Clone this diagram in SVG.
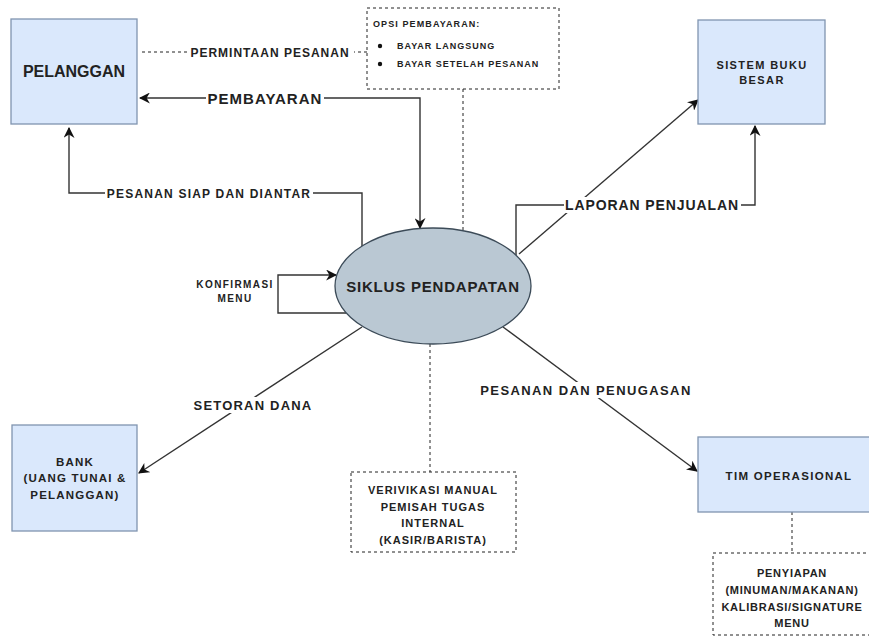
<svg xmlns="http://www.w3.org/2000/svg" width="869" height="642" viewBox="0 0 869 642">
<style>
text{font-family:"Liberation Sans",Arial,sans-serif;font-weight:bold;fill:#222;text-anchor:middle}
.ent{fill:#dae8fc;stroke:#8094b0;stroke-width:1.3}
.note{fill:#fff;stroke:#222;stroke-width:1;stroke-dasharray:3 3}
.ln{fill:none;stroke:#333;stroke-width:1.4}
.dl{fill:none;stroke:#222;stroke-width:1;stroke-dasharray:3 3}
.lb{fill:#fff}
</style>
<defs>
<marker id="ah" viewBox="0 0 10 10" refX="9" refY="5" markerWidth="11" markerHeight="11" markerUnits="userSpaceOnUse" orient="auto-start-reverse">
<path d="M0,0 L10,5 L0,10 L3,5 z" fill="#111"/>
</marker>
</defs>
<rect width="869" height="642" fill="#fff"/>

<g id="connectors">
<path class="dl" d="M142 52 L367 52"/>
<path class="dl" d="M463 89 L463 231"/>
<path class="dl" d="M430 344 L430 472"/>
<path class="dl" d="M792 512 L792 553"/>
<path class="ln" d="M420 228 L420 98 L140 98" marker-start="url(#ah)" marker-end="url(#ah)"/>
<path class="ln" d="M362 246 L362 193 L69 193 L69 128" marker-end="url(#ah)"/>
<path class="ln" d="M516 255 L516 205 L755 205 L755 126" marker-end="url(#ah)"/>
<path class="ln" d="M519 254 L698 100" marker-end="url(#ah)"/>
<path class="ln" d="M346 313 L278 313 L278 275 L336 275" marker-end="url(#ah)"/>
<path class="ln" d="M362 327 L139 473" marker-end="url(#ah)"/>
<path class="ln" d="M503 327 L697 471" marker-end="url(#ah)"/>
<rect class="lb" x="187" y="45" width="167" height="14"/>
<text x="270" y="56.5" font-size="12" letter-spacing="1">PERMINTAAN PESANAN</text>
<rect class="lb" x="206" y="90" width="118" height="16"/>
<text x="265" y="103.5" font-size="15" letter-spacing="1">PEMBAYARAN</text>
<rect class="lb" x="105" y="186" width="208" height="14"/>
<text x="209" y="197.5" font-size="12" letter-spacing="1.2">PESANAN SIAP DAN DIANTAR</text>
<rect class="lb" x="564" y="197" width="177" height="16"/>
<text x="652" y="210" font-size="14" letter-spacing="0.9">LAPORAN PENJUALAN</text>
<rect class="lb" x="190" y="397" width="126" height="16"/>
<text x="253" y="409.5" font-size="13" letter-spacing="1.2">SETORAN DANA</text>
<rect class="lb" x="477" y="382" width="218" height="16"/>
<text x="586" y="394.5" font-size="13" letter-spacing="1.4">PESANAN DAN PENUGASAN</text>
<text x="235" y="288" font-size="10" letter-spacing="1.4">KONFIRMASI</text>
<text x="235" y="302" font-size="10" letter-spacing="1.4">MENU</text>
</g>

<g id="pelanggan">
<rect class="ent" x="11" y="19" width="126" height="105"/>
<text x="74" y="77" font-size="16">PELANGGAN</text>
</g>

<g id="opsi-pembayaran">
<rect class="note" x="367" y="8" width="192" height="81"/>
<text x="373" y="27" font-size="9" letter-spacing="1.1" style="text-anchor:start">OPSI PEMBAYARAN:</text>
<circle cx="380" cy="46" r="2.2" fill="#111"/>
<circle cx="380" cy="64" r="2.2" fill="#111"/>
<text x="397" y="49" font-size="9" letter-spacing="1" style="text-anchor:start">BAYAR LANGSUNG</text>
<text x="397" y="67" font-size="9" letter-spacing="1" style="text-anchor:start">BAYAR SETELAH PESANAN</text>
</g>

<g id="sistem-buku-besar">
<rect class="ent" x="698" y="20" width="127" height="104"/>
<text x="762" y="69" font-size="11" letter-spacing="1.4">SISTEM BUKU</text>
<text x="762" y="84" font-size="11" letter-spacing="1.4">BESAR</text>
</g>

<g id="siklus-pendapatan">
<ellipse cx="433" cy="286" rx="98" ry="58" fill="#bac8d3" stroke="#3c4b58" stroke-width="1.3"/>
<text x="433" y="291.5" font-size="15" letter-spacing="0.8">SIKLUS PENDAPATAN</text>
</g>

<g id="bank">
<rect class="ent" x="12" y="425" width="125" height="106"/>
<text x="75" y="466" font-size="11.5" letter-spacing="1.2">BANK</text>
<text x="75" y="482" font-size="11.5" letter-spacing="1.2">(UANG TUNAI &amp;</text>
<text x="75" y="499" font-size="11.5" letter-spacing="1.2">PELANGGAN)</text>
</g>

<g id="verifikasi">
<rect class="note" x="351" y="472" width="165" height="80"/>
<text x="433" y="494" font-size="11" letter-spacing="1">VERIVIKASI MANUAL</text>
<text x="433" y="511" font-size="11" letter-spacing="1">PEMISAH TUGAS</text>
<text x="433" y="527" font-size="11" letter-spacing="1">INTERNAL</text>
<text x="433" y="544" font-size="11" letter-spacing="1">(KASIR/BARISTA)</text>
</g>

<g id="tim-operasional">
<rect class="ent" x="698" y="437" width="182" height="75"/>
<text x="789" y="480" font-size="11.5" letter-spacing="1.3">TIM OPERASIONAL</text>
</g>

<g id="penyiapan">
<rect class="note" x="713" y="553" width="170" height="82"/>
<text x="792" y="577" font-size="11" letter-spacing="0.75">PENYIAPAN</text>
<text x="792" y="594" font-size="11" letter-spacing="0.75">(MINUMAN/MAKANAN)</text>
<text x="792" y="611" font-size="11" letter-spacing="0.75">KALIBRASI/SIGNATURE</text>
<text x="792" y="627" font-size="11" letter-spacing="0.75">MENU</text>
</g>
</svg>
